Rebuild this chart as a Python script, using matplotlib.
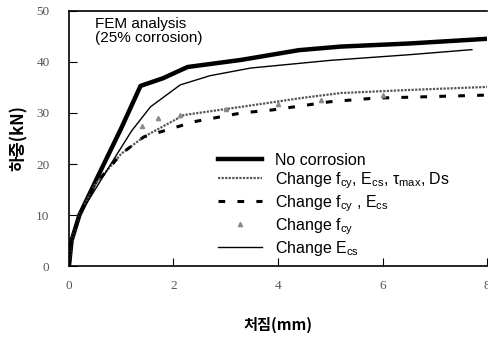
import matplotlib
matplotlib.use("Agg")
import matplotlib.pyplot as plt

plt.rcParams['font.family'] = ['Liberation Sans', 'Noto Sans CJK KR', 'DejaVu Sans']
plt.rcParams['mathtext.default'] = 'regular'

# Data (deflection mm, load kN)
x_nocorr = [0, 0.05, 0.2, 0.55, 1.0, 1.37, 1.8, 2.27, 3.3, 4.4, 5.2, 6.5, 7.96]
y_nocorr = [0, 5, 10, 17.5, 27, 35.3, 36.8, 39.0, 40.4, 42.3, 43.0, 43.6, 44.5]

x_all = [0, 0.05, 0.2, 0.5, 1.0, 1.43, 2.2, 3.3, 4.5, 5.2, 6.5, 8.0]
y_all = [0, 5, 10, 16, 22, 25.3, 29.6, 31.2, 33.0, 33.9, 34.5, 35.1]

x_fe = [0, 0.05, 0.2, 0.5, 1.0, 1.43, 2.4, 3.3, 3.9, 5.0, 5.85, 8.0]
y_fe = [0, 5, 10, 16, 22, 25.3, 28.3, 30.0, 30.6, 32.2, 32.9, 33.5]

x_fcy = [0, 0.05, 0.2, 0.5, 1.0, 1.4, 1.7, 2.13, 3.0, 4.0, 4.83, 6.0, 8.0]
y_fcy = [0, 5, 10, 16.5, 23.5, 27.5, 29.0, 29.6, 30.8, 31.8, 32.5, 33.5, 34.5]

x_ecs = [0, 0.05, 0.2, 0.79, 1.2, 1.56, 2.13, 2.7, 3.48, 5.0, 6.5, 7.71]
y_ecs = [0, 5, 10, 19.8, 26.5, 31.2, 35.5, 37.3, 38.8, 40.3, 41.4, 42.4]

labels = ['No corrosion',
          r'Change f$_{cy}$, E$_{cs}$, $\tau$$_{max}$, Ds',
          r'Change f$_{cy}$ , E$_{cs}$',
          r'Change f$_{cy}$',
          r'Change E$_{cs}$']

xticks = [0, 2, 4, 6, 8]
yticks = [0, 10, 20, 30, 40, 50]

fig = plt.figure(figsize=(4.89, 3.39), dpi=100)
ax = fig.add_axes([0.141, 0.215, 0.855, 0.753])

ax.plot(x_nocorr, y_nocorr, color='black', lw=3.2, label=labels[0])
ax.plot(x_all, y_all, color='#555555', lw=1.6, linestyle=(0, (1, 0.6)), label=labels[1])
ax.plot(x_fe, y_fe, color='black', lw=2.2, linestyle=(0, (2.2, 4)), label=labels[2])
ax.plot(x_fcy, y_fcy, color='#888888', lw=0, marker='^', markersize=3,
        markevery=[5, 6, 7, 8, 9, 10, 11], label=labels[3])
ax.plot(x_ecs, y_ecs, color='black', lw=1.0, label=labels[4])

ax.set_xlim(0, 8)
ax.set_ylim(0, 50)
ax.set_xticks(xticks)
ax.set_yticks(yticks)
ax.tick_params(direction='in', length=6, labelsize=9.5, labelcolor='#555555', pad=14)
ax.tick_params(axis='x', pad=10)
for lab in ax.get_xticklabels() + ax.get_yticklabels():
    lab.set_family('Liberation Serif')
ax.spines['right'].set_visible(False)
for s in ['left', 'bottom', 'top']:
    ax.spines[s].set_linewidth(1.2)

ax.text(0.062, 0.975, 'FEM analysis\n(25% corrosion)', transform=ax.transAxes,
        fontsize=11, va='top', ha='left', linespacing=1.0)

ax.set_xlabel('처짐(mm)', fontsize=11, fontweight='bold',
              family=['Noto Sans CJK KR', 'DejaVu Sans'], labelpad=18)
ax.set_ylabel('하중(kN)', fontsize=12, fontweight='bold',
              family=['Noto Sans CJK KR', 'DejaVu Sans'], labelpad=6)

leg = ax.legend(loc='upper left', bbox_to_anchor=(0.357, 0.445), frameon=False,
                fontsize=11.5, handlelength=2.75, labelspacing=0.15,
                handletextpad=0.8, borderaxespad=0.0, borderpad=0.0)

fig.savefig('out.png', dpi=100)
